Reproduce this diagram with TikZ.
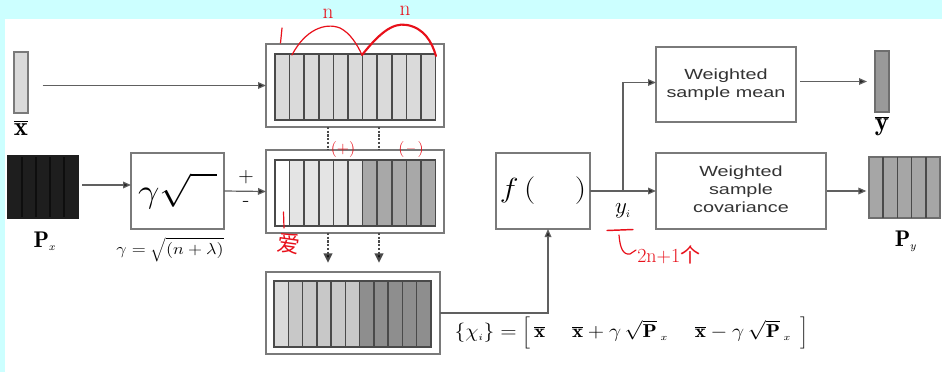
\documentclass[tikz,border=0pt]{standalone}
\usepackage{fontspec}
\usepackage{graphicx}
\setsansfont{Liberation Sans}
\newfontfamily\cjk{Noto Sans CJK SC}
\usetikzlibrary{arrows.meta,calc}
\definecolor{bgcyan}{HTML}{CCFFFF}
\definecolor{boxgray}{HTML}{7A7A7A}
\definecolor{linegray}{HTML}{606060}
\definecolor{celldark}{HTML}{4A4A4A}
\definecolor{cA}{HTML}{DADADA}
\definecolor{cB}{HTML}{E4E4E4}
\definecolor{cC}{HTML}{A8A8A8}
\definecolor{cD}{HTML}{C8C8C8}
\definecolor{cE}{HTML}{8E8E8E}
\definecolor{pxfill}{HTML}{1E1E1E}
\definecolor{pyfill}{HTML}{A6A6A6}
\definecolor{ybfill}{HTML}{999999}
\definecolor{txt}{HTML}{333333}
\definecolor{pen}{HTML}{E8101A}
\begin{document}
\begin{tikzpicture}[x=0.75pt,y=-0.75pt,
  box/.style={draw=boxgray, line width=1.2pt, fill=white, inner sep=0pt, outer sep=0pt},
  vec/.style={draw=boxgray, line width=1.2pt, inner sep=0pt, outer sep=0pt},
  arr/.style={draw=linegray, line width=0.9pt, -{Triangle[length=6pt,width=5pt,fill=black!85]}},
  dots/.style={draw=celldark, line width=1.5pt, dash pattern=on 1.6pt off 1.2pt},
  dotarr/.style={dots, -{Triangle[length=7pt,width=6.5pt,fill=black]}},
  cell/.style={draw=celldark, line width=1.1pt},
  wtext/.style={font=\sffamily\fontsize{11}{13.5}\selectfont, text=txt},
  redpen/.style={draw=pen, line width=0.9pt, line cap=round, line join=round},
  redtext/.style={text=pen, inner sep=0pt}
]
% background
\fill[bgcyan] (0,0) rectangle (942,372);
\fill[white] (5,19) rectangle (942,372);
\useasboundingbox (0,0) rectangle (942,372);

% left inputs
\node[vec, fill=cA, minimum width=10.5pt, minimum height=45.75pt] (xbar) at (21,82.5) {};
\node (xbarlab) at (21,128) {\fontsize{20}{20}\selectfont$\overline{\mathbf{x}}$};
\node[vec, fill=pxfill, draw=pxfill, minimum width=52.5pt, minimum height=46.5pt] (Px) at (43,187) {};
\foreach \k in {1,...,4} \draw[draw=black!55!pxfill, line width=0.8pt] ({8+14*\k},157) -- ({8+14*\k},217);
\node (Pxlab) at (45,241) {\fontsize{17}{17}\selectfont$\mathbf{P}_{\scriptscriptstyle x}$};

% gamma sqrt box
\node[box, minimum width=69.75pt, minimum height=57pt] (gbox) at (177.5,191)
  {\fontsize{24}{24}\selectfont\scalebox{1.15}[1]{$\gamma\sqrt{\phantom{ii}}$}};
\node (gdef) at (170,250) {\fontsize{13}{13}\selectfont\scalebox{1.15}[1]{$\gamma=\sqrt{(n+\lambda)}$}};
\node (plus) at (246,177) {\fontsize{16}{16}\selectfont +};
\node (minus) at (246,204) {\fontsize{16}{16}\selectfont -};

% three sigma-point boxes
\node[box, minimum width=133.5pt, minimum height=62.25pt] (top) at (355,85.5) {};
\node[box, minimum width=133.5pt, minimum height=62.25pt] (mid) at (355,191.5) {};
\node[box, minimum width=130.5pt, minimum height=61.5pt] (bot) at (353,313) {};

\foreach \i in {0,...,10}
  \filldraw[cell, fill=cA] ({275+\i*14.6},54) rectangle ++(14.6,66);
\foreach \i/\c in {0/white,1/cB,2/cB,3/cB,4/cB,5/cB,6/cC,7/cC,8/cC,9/cC,10/cC}
  \filldraw[cell, fill=\c] ({275+\i*14.6},160) rectangle ++(14.6,66);
\foreach \i/\c in {0/cA,1/cD,2/cD,3/cD,4/cD,5/cD,6/cE,7/cE,8/cE,9/cE,10/cE}
  \filldraw[cell, fill=\c] ({274+\i*14.27},281) rectangle ++(14.27,66);

% f box
\node[box, minimum width=70.5pt, minimum height=57pt] (fbox) at (543,191)
  {\fontsize{20}{20}\selectfont\scalebox{1.15}[1]{$f\,(\quad\;)$}};
\node (yi) at (623,211) {\fontsize{16}{16}\selectfont$y_{\scriptscriptstyle i}$};

% weighted boxes
\node[box, wtext, minimum width=105pt, minimum height=56.25pt] (mean) at (726,84.5)
  {\scalebox{1.35}[1]{\begin{tabular}{@{}c@{}}Weighted\\sample mean\end{tabular}}};
\node[box, wtext, minimum width=127.5pt, minimum height=57pt] (cov) at (741,191)
  {\scalebox{1.35}[1]{\begin{tabular}{@{}c@{}}Weighted\\sample\\covariance\end{tabular}}};

% outputs
\node[vec, fill=ybfill, draw=celldark!80, minimum width=10.5pt, minimum height=45.75pt] (ybar) at (882,81.5) {};
\node (ybarlab) at (882,126) {\fontsize{20}{20}\selectfont$\overline{\mathbf{y}}$};
\node[vec, fill=pyfill, draw=celldark!80, minimum width=53.25pt, minimum height=45.75pt] (Py) at (904.5,187.5) {};
\foreach \k in {1,...,4} \draw[cell] ({869+14.2*\k},157) -- ({869+14.2*\k},218);
\node (Pylab) at (906,241) {\fontsize{17}{17}\selectfont$\mathbf{P}_{\scriptscriptstyle y}$};

% formula
\node[anchor=west] (chi) at (450,333) {\fontsize{14}{14}\selectfont\scalebox{1.12}[1]{$\{\chi_{\scriptscriptstyle i}\}=\biggl[\,\overline{\mathbf{x}}\quad\;\overline{\mathbf{x}}+\gamma\,\sqrt{\mathbf{P}}\,{}_{\scriptscriptstyle x}\quad\;\overline{\mathbf{x}}-\gamma\,\sqrt{\mathbf{P}}\,{}_{\scriptscriptstyle x}\;\,\biggr]$}};

% connectors
\draw[arr, shorten <=11pt] (xbar.east |- top.west) -- (top.west);
\draw[arr, shorten <=3pt] (Px.east |- 0,185) -- (gbox.west |- 0,185);
\draw[arr] (gbox.east) -- (mid.west);
\draw[dots] (top.south -| 328,0) -- (mid.north -| 328,0);
\draw[dots] (top.south -| 379,0) -- (mid.north -| 379,0);
\draw[dotarr, shorten >=7pt] (mid.south -| 328,0) -- (bot.north -| 328,0);
\draw[dotarr, shorten >=7pt] (mid.south -| 379,0) -- (bot.north -| 379,0);
\draw[arr] (bot.east) -| ([xshift=3.75pt]fbox.south);
\draw[arr] (fbox.east) -- (cov.west);
\coordinate (br) at (623,191);
\draw[arr] (br) |- ([yshift=1.5pt]mean.west);
\draw[arr, shorten <=3pt, shorten >=6pt] (mean.east |- ybar.west) -- (ybar.west);
\draw[arr, shorten <=0.5pt, shorten >=2pt] (cov.east) -- (cov.east -| Py.west);

% red handwritten annotations
\draw[redpen] (282,28) -- (280.5,43);
\draw[redpen] (292,55) .. controls (305,30) and (325,22) .. (340,28) .. controls (350,33) and (357,44) .. (362,55);
\draw[redpen, line width=1.6pt] (362,55) .. controls (378,35) and (392,22) .. (407,25) .. controls (424,28) and (432,42) .. (436,56);
\node[redtext, font=\fontsize{16}{16}\selectfont] (n1) at (328,14) {n};
\node[redtext, font=\fontsize{16}{16}\selectfont] (n2) at (405,11) {n};
\node[redtext, font=\fontsize{12}{12}\selectfont] (pl) at (343,150) {(+)};
\node[redtext, font=\fontsize{12}{12}\selectfont] (mi) at (411,150) {(\,--\,)};
\draw[redpen] (283.5,212) -- (284,228);
\node[redtext, font=\cjk\fontsize{17}{17}\selectfont, rotate=-8] (ai) at (289,244) {爱};
\draw[redpen, line width=1.1pt] (607,230.5) -- (633,229.5);
\draw[redpen] (619,235) .. controls (620,248) and (623,255) .. (630,254) -- (636,250);
\node[redtext, anchor=west, font=\fontsize{15}{15}\selectfont] (cnt) at (637,255) {2n+1\cjk 个};
\end{tikzpicture}
\end{document}
